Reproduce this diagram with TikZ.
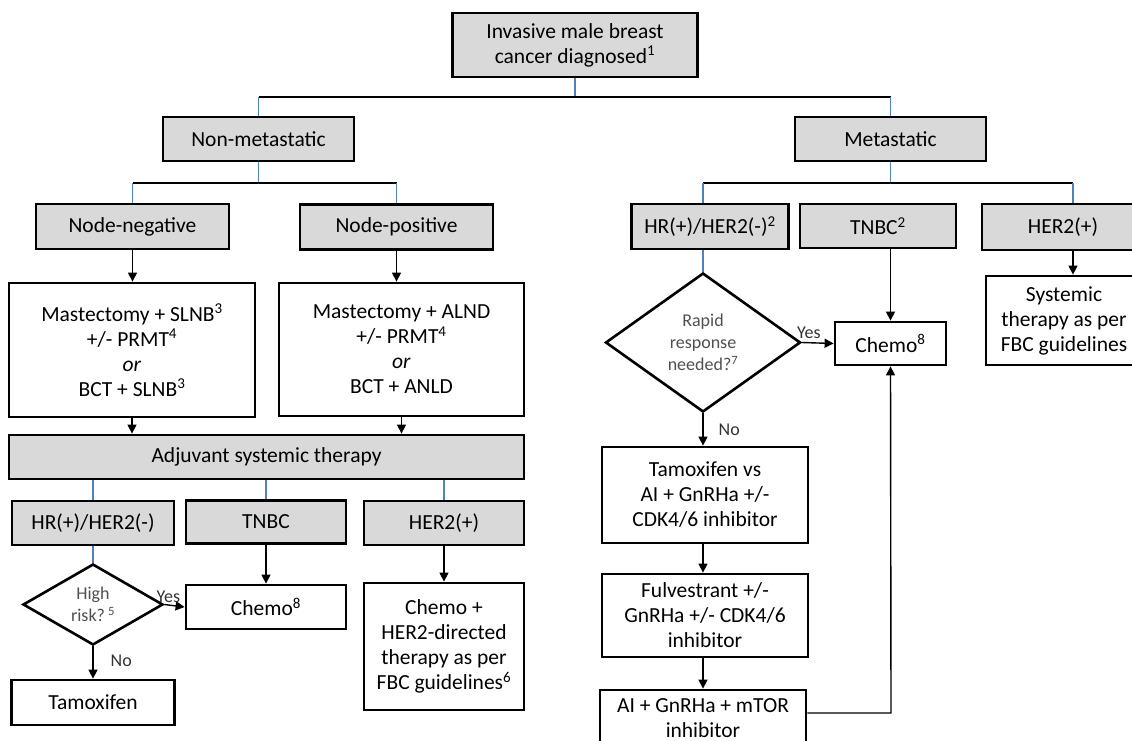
\documentclass[tikz,border=0pt]{standalone}
\usepackage{fontspec}
\setmainfont{Carlito}
\usetikzlibrary{shapes.geometric,arrows.meta,shadows}
\definecolor{boxgray}{HTML}{D9D9D9}
\definecolor{linkblue}{HTML}{4F81BD}
\definecolor{dtext}{HTML}{505050}
\tikzset{
  basebox/.style={draw, line width=2.8pt, inner sep=0pt, align=center,
    font=\fontsize{21.5}{25}\selectfont,
    drop shadow={shadow xshift=1.3pt, shadow yshift=-1.3pt, opacity=0.6, fill=black}},
  gbox/.style={basebox, fill=boxgray},
  wbox/.style={basebox, fill=white},
  dbox/.style={draw, line width=2.6pt, diamond, inner sep=0pt, align=center, fill=white,
    text=dtext, font=\fontsize{18}{22}\selectfont},
  conn/.style={line width=1.4pt},
  bconn/.style={line width=1.4pt, draw=linkblue},
  arr/.style={line width=1.4pt, -{Triangle[length=9pt,width=9pt]}},
  lbl/.style={font=\fontsize{18}{20}\selectfont, text=black!80, inner sep=1pt}
}
\begin{document}
\begin{tikzpicture}[x=1pt,y=-1pt]
\useasboundingbox (0,0) rectangle (1132,741);
% ---- top
\node[gbox, minimum width=245, minimum height=64] (top) at (575,45) {Invasive male breast\\cancer diagnosed\textsuperscript{1}};
\node[gbox, minimum width=191, minimum height=44] (nonmet) at (258.5,139) {Non-metastatic};
\node[gbox, minimum width=191, minimum height=44] (met) at (890.5,139) {Metastatic};
% ---- left branch
\node[gbox, minimum width=193, minimum height=45] (nneg) at (132.5,226.5) {Node-negative};
\node[gbox, minimum width=193, minimum height=45] (npos) at (396.5,227) {Node-positive};
\node[wbox, minimum width=246, minimum height=134] (mslnb) at (132,350) {Mastectomy + SLNB\textsuperscript{3}\\+/- PRMT\textsuperscript{4}\\\textit{or}\\BCT + SLNB\textsuperscript{3}};
\node[wbox, minimum width=245, minimum height=133] (malnd) at (401.5,349.5) {Mastectomy + ALND\\+/- PRMT\textsuperscript{4}\\\textit{or}\\BCT + ANLD};
\node[gbox, minimum width=515, minimum height=44] (adj) at (266.5,457) {Adjuvant systemic therapy};
\node[gbox, minimum width=162, minimum height=44] (hrL) at (93,523) {HR(+)/HER2(-)};
\node[gbox, minimum width=160, minimum height=43] (tnbcL) at (266,522) {TNBC};
\node[gbox, minimum width=160, minimum height=44] (her2L) at (444,523) {HER2(+)};
\node[dbox, minimum width=140, minimum height=81] (hrisk) at (93,604.5) {High\\risk?\,\textsuperscript{5}};
\node[wbox, minimum width=160, minimum height=44] (chemoL) at (266,607) {Chemo\textsuperscript{8}};
\node[wbox, minimum width=163, minimum height=45] (tamL) at (93,702.5) {Tamoxifen};
\node[wbox, minimum width=160, minimum height=127] (her2t) at (444,646.5) {Chemo +\\HER2-directed\\therapy as per\\FBC guidelines\textsuperscript{6}};
% ---- right branch
\node[gbox, minimum width=157, minimum height=45] (hrR) at (710,226.5) {HR(+)/HER2(-)\textsuperscript{2}};
\node[gbox, minimum width=156, minimum height=44] (tnbcR) at (878,226) {TNBC\textsuperscript{2}};
\node[gbox, minimum width=162, minimum height=46] (her2R) at (1063,227) {HER2(+)};
\node[wbox, minimum width=156, minimum height=89] (sys) at (1064,320.5) {Systemic\\therapy as per\\FBC guidelines};
\node[dbox, minimum width=195, minimum height=139] (rapid) at (703,342.5) {Rapid\\response\\needed?\textsuperscript{7}};
\node[wbox, minimum width=111, minimum height=43] (chemoR) at (890.5,343.5) {Chemo\textsuperscript{8}};
\node[wbox, minimum width=206, minimum height=96] (tamR) at (705,495) {Tamoxifen vs\\AI + GnRHa +/-\\CDK4/6 inhibitor};
\node[wbox, minimum width=206, minimum height=83] (fulv) at (705,615.5) {Fulvestrant +/-\\GnRHa +/- CDK4/6\\inhibitor};
\node[wbox, minimum width=206, minimum height=56] (ai) at (703,718) {AI + GnRHa + mTOR\\inhibitor};
% ---- junction coordinates
\coordinate (j1) at (575,97);
\coordinate (j2) at (258.5,183);
\coordinate (j3) at (890.5,183);
\coordinate (jr) at (1073,183);
\coordinate (bend) at (891,713);
% ---- connectors top
\draw[bconn] (top.south) -- (j1);
\draw[conn] (nonmet.north |- j1) -- (met.north |- j1);
\draw[bconn] (nonmet.north |- j1) -- (nonmet.north);
\draw[bconn] (met.north |- j1) -- (met.north);
% left
\draw[bconn] (nonmet.south) -- (j2);
\draw[conn] (nneg.north |- j2) -- (npos.north |- j2);
\draw[bconn] (nneg.north |- j2) -- (nneg.north);
\draw[bconn] (npos.north |- j2) -- (npos.north);
\draw[arr] (nneg.south) -- (nneg.south |- mslnb.north);
\draw[arr] (npos.south) -- (npos.south |- malnd.north);
\draw[arr] (mslnb.south) -- (mslnb.south |- adj.north);
\draw[arr] (malnd.south) -- (malnd.south |- adj.north);
\draw[bconn] (hrL.north |- adj.south) -- (hrL.north);
\draw[bconn] (tnbcL.north |- adj.south) -- (tnbcL.north);
\draw[bconn] (her2L.north |- adj.south) -- (her2L.north);
\draw[bconn] (hrL.south) -- (hrisk.north);
\draw[arr] (hrisk.east) -- node[lbl, anchor=south, pos=0.2, yshift=1pt] {Yes} (chemoL.west);
\draw[arr] (tnbcL.south) -- (chemoL.north);
\draw[arr] (hrisk.south) -- node[lbl, right=16pt, pos=0.45] {No} (tamL.north);
\draw[arr] (her2L.south) -- (her2t.north);
% right
\draw[bconn] (met.south) -- (j3);
\draw[conn] (rapid.north |- j3) -- (jr);
\draw[bconn] (rapid.north |- j3) -- (rapid.north |- hrR.north);
\draw[bconn] (jr) -- (jr |- her2R.north);
\draw[arr] (jr |- her2R.south) -- (jr |- sys.north);
\draw[bconn] (rapid.north |- hrR.south) -- (rapid.north);
\draw[arr] (rapid.east) -- node[lbl, anchor=south, pos=0.22, yshift=2pt] {Yes} (chemoR.west);
\draw[arr] (chemoR.north |- tnbcR.south) -- (chemoR.north);
\draw[arr] (rapid.south) -- node[lbl, right=14pt, pos=0.5] {No} (rapid.south |- tamR.north);
\draw[arr] (rapid.south |- tamR.south) -- (rapid.south |- fulv.north);
\draw[arr] (rapid.south |- fulv.south) -- (rapid.south |- ai.north);
\draw[arr] (ai.east |- bend) -- (bend) -- (chemoR.south);
\end{tikzpicture}
\end{document}
